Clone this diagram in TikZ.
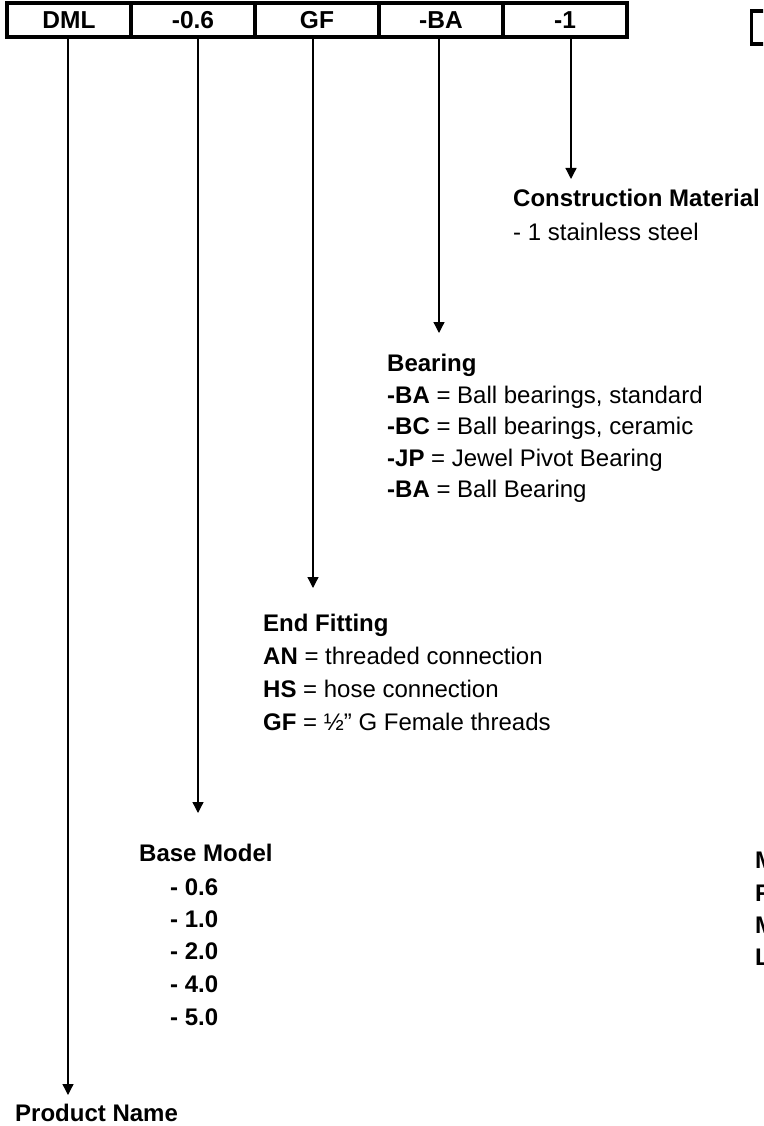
\documentclass[tikz,border=0pt]{standalone}
\usepackage{fontspec}
\setmainfont{Liberation Sans}
\usetikzlibrary{arrows.meta}
\begin{document}
\begin{tikzpicture}[x=1pt,y=-1pt,
  txt/.style={anchor=base west, inner sep=0pt, font=\fontsize{24}{29}\selectfont},
  hdr/.style={anchor=base west, inner sep=0pt, font=\fontsize{24}{29}\selectfont\bfseries},
  cell/.style={draw, line width=3.6pt, minimum width=124pt, minimum height=34pt, inner sep=0pt, font=\fontsize{24.5}{29}\selectfont\bfseries},
  conn/.style={line width=1.3pt, -{Triangle[width=11pt,length=11pt]}}]
\useasboundingbox (0,0) rectangle (763,1126);
\clip (0,0) rectangle (763,1126);
% code bar
\node[cell] (c1) at (69,20) {DML};
\node[cell] (c2) at (193,20) {-0.6};
\node[cell] (c3) at (317,20) {GF};
\node[cell] (c4) at (441,20) {-BA};
\node[cell] (c5) at (565,20) {-1};
% partial box at right edge
\node[draw, line width=3.6pt, minimum width=60pt, minimum height=33pt, anchor=north west, inner sep=0pt] (pbox) at (749.5,9.5) {};
% arrow tips
\coordinate (t1) at (68,1095);
\coordinate (t2) at (198,813);
\coordinate (t3) at (313,588);
\coordinate (t4) at (439,333);
\coordinate (t5) at (571,179);
\draw[conn] (c1.south -| t1) -- (t1);
\draw[conn] (c2.south -| t2) -- (t2);
\draw[conn] (c3.south -| t3) -- (t3);
\draw[conn] (c4.south -| t4) -- (t4);
\draw[conn] (c5.south -| t5) -- (t5);
% Construction material
\node[hdr] (cm) at (513,207) {Construction Material};
\node[txt] (cm1) at (513,240) {- 1 stainless steel};
% Bearing
\node[hdr] (br) at (387,371) {Bearing};
\node[txt] (br1) at (387,403) {\textbf{-BA} = Ball bearings, standard};
\node[txt] (br2) at (387,434.5) {\textbf{-BC} = Ball bearings, ceramic};
\node[txt] (br3) at (387,466) {\textbf{-JP} = Jewel Pivot Bearing};
\node[txt] (br4) at (387,497.5) {\textbf{-BA} = Ball Bearing};
% End fitting
\node[hdr] (ef) at (263,631) {End Fitting};
\node[txt] (ef1) at (263,664) {\textbf{AN} = threaded connection};
\node[txt] (ef2) at (263,697) {\textbf{HS} = hose connection};
\node[txt] (ef3) at (263,730) {\textbf{GF} = ½” G Female threads};
% Base model
\node[hdr] (bm) at (139,861) {Base Model};
\node[hdr] (bm1) at (170,895) {- 0.6};
\node[hdr] (bm2) at (170,927) {- 1.0};
\node[hdr] (bm3) at (170,959) {- 2.0};
\node[hdr] (bm4) at (170,992) {- 4.0};
\node[hdr] (bm5) at (170,1025) {- 5.0};
% Product name
\node[hdr] (pn) at (15,1121) {Product Name};
% cut-off letters at right edge (cut off in the reference too)
\node[hdr] (r1) at (755,868.5) {M};
\node[hdr] (r2) at (755,901.5) {F};
\node[hdr] (r3) at (755,933.5) {M};
\node[hdr] (r4) at (755,965.5) {L};
\end{tikzpicture}
\end{document}
